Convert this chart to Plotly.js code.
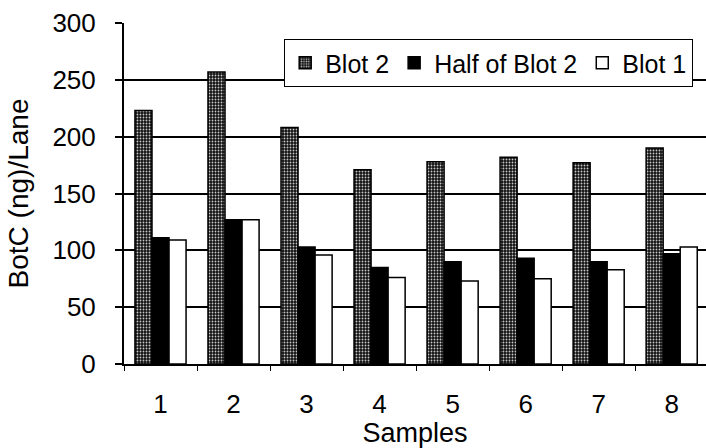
<!DOCTYPE html>
<html>
<head>
<meta charset="utf-8">
<script src="https://cdn.plot.ly/plotly-3.0.1.min.js"></script>
<style>html,body{margin:0;padding:0;background:#fff}#chart{width:706px;height:448px}</style>
</head>
<body>
<div id="chart"></div>
<script>
var samples = ['1','2','3','4','5','6','7','8'];
var blot2 = [223, 257, 208, 171, 178, 182, 177, 190];
var halfBlot2 = [111, 127, 103, 85, 90, 93, 90, 97];
var blot1 = [109, 127, 96, 76, 73, 75, 83, 103];
var yTicks = [0, 50, 100, 150, 200, 250, 300];

var font = 'Liberation Sans, Arial, sans-serif';
var traces = [
  {type:'bar', name:'Blot 2', x:samples, y:blot2,
   marker:{color:'#555', line:{color:'#000', width:1.5},
           pattern:{shape:'.', bgcolor:'#111', fgcolor:'#c8c8c8', size:3, solidity:0.3}}},
  {type:'bar', name:'Half of Blot 2', x:samples, y:halfBlot2,
   marker:{color:'#000', line:{color:'#000', width:1.5}}},
  {type:'bar', name:'Blot 1', x:samples, y:blot1,
   marker:{color:'#fff', line:{color:'#000', width:1.5}}}
];
var layout = {
  width:706, height:448,
  margin:{l:124, r:0, t:23, b:84},
  paper_bgcolor:'#fff', plot_bgcolor:'#fff',
  barmode:'group', bargap:0.3, bargroupgap:0,
  font:{family:font, size:26, color:'#000'},
  showlegend:true,
  legend:{orientation:'h', x:0.978, y:0.953, xanchor:'right', yanchor:'top',
          bordercolor:'#000', borderwidth:1, bgcolor:'#fff',
          font:{family:font, size:25, color:'#000'}},
  xaxis:{type:'category', range:[-0.5, 7.47], tickson:'boundaries', automargin:false,
         ticks:'outside', ticklen:5, tickcolor:'#000', tickwidth:1,
         showline:true, linecolor:'#000', linewidth:2, showgrid:false, zeroline:false,
         ticklabelstandoff:16, tickfont:{size:26},
         title:{text:'Samples', font:{size:27}, standoff:2}},
  yaxis:{range:[0,300], tickvals:yTicks, ticktext:yTicks.map(String), automargin:false,
         ticks:'outside', ticklen:7, tickcolor:'#000', tickwidth:2,
         showline:true, linecolor:'#000', linewidth:2,
         showgrid:true, gridcolor:'#000', gridwidth:2, zeroline:false,
         ticklabelstandoff:14, tickfont:{size:26},
         title:{text:'BotC (ng)/Lane', font:{size:28}, standoff:16}}
};
Plotly.newPlot('chart', traces, layout, {staticPlot:true, displayModeBar:false});
</script>
</body>
</html>
